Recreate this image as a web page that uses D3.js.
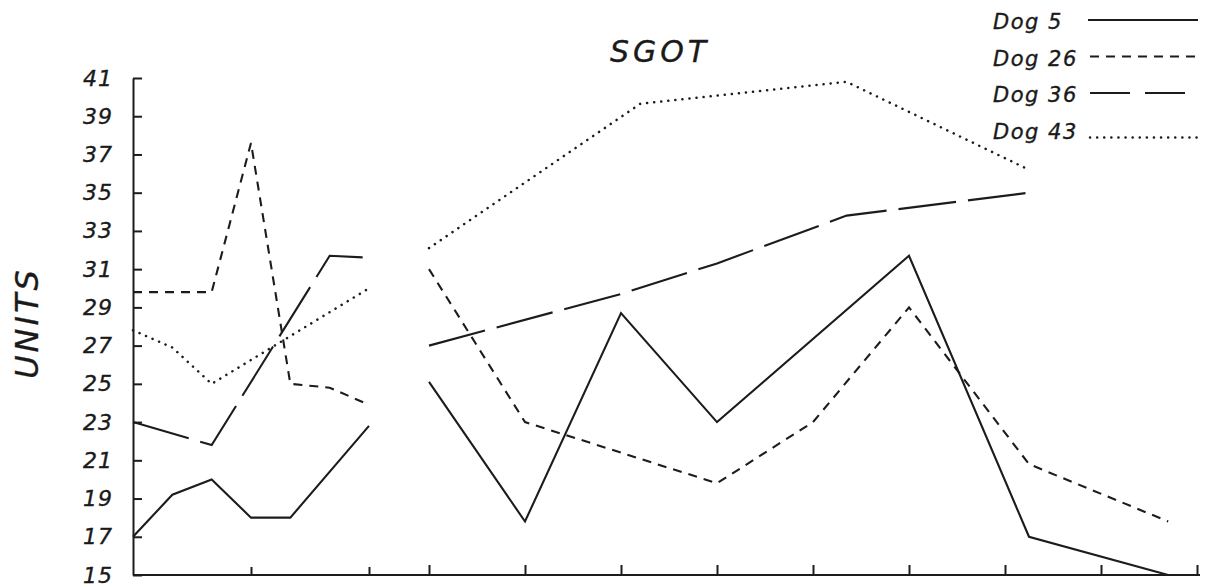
<!DOCTYPE html>
<html>
<head>
<meta charset="utf-8">
<script src="https://cdn.jsdelivr.net/npm/d3@7"></script>
<style>
  html, body { margin: 0; padding: 0; background: #fff; }
  svg { display: block; }
  text { font-family: "DejaVu Sans", sans-serif; font-style: italic; fill: #1a1a1a; stroke: #1a1a1a; stroke-width: 0.35; }
</style>
</head>
<body>
<script>
// ---- data -------------------------------------------------------------
const seriesNames = ["Dog 5", "Dog 26", "Dog 36", "Dog 43"];

// early period (left panel), time index 0..6
const dog5EarlyT  = [0, 1, 2, 3, 4, 6];
const dog5EarlyV  = [17, 19.2, 20, 18, 18, 22.8];
const dog26EarlyT = [0, 2, 3, 4, 5, 6];
const dog26EarlyV = [29.8, 29.8, 37.6, 25, 24.8, 23.9];
const dog36EarlyT = [0, 2, 5, 6];
const dog36EarlyV = [23, 21.8, 31.7, 31.6];
const dog43EarlyT = [0, 1, 2, 6];
const dog43EarlyV = [27.8, 26.9, 25, 30];

// later period (right panel), time index 0..8
const dog5LateT  = [0, 1, 2, 3, 5, 6.25, 7.7];
const dog5LateV  = [25.1, 17.8, 28.7, 23, 31.7, 17, 15];
const dog26LateT = [0, 1, 3, 4, 5, 6.25, 7.7];
const dog26LateV = [31, 23, 19.8, 23, 29, 20.8, 17.8];
const dog36LateT = [0, 2, 3, 4.35, 6.25];
const dog36LateV = [27, 29.7, 31.3, 33.8, 35];
const dog43LateT = [0, 2.2, 4.35, 6.25];
const dog43LateV = [32.1, 39.65, 40.8, 36.2];

const yTickValues = [15, 17, 19, 21, 23, 25, 27, 29, 31, 33, 35, 37, 39, 41];
const earlyTicks = [3, 6];
const lateTicks = [0, 1, 2, 3, 4, 5, 6, 7, 8];

// ---- layout & scales --------------------------------------------------
const W = 1215, H = 587;
const svg = d3.select("body").append("svg").attr("width", W).attr("height", H);

const y = d3.scaleLinear().domain([15, 41]).range([575, 78]);
const xEarly = d3.scaleLinear().domain([0, 6]).range([133, 369]);
const xLate = d3.scaleLinear().domain([0, 8]).range([429, 1197]);

const ink = "#1c1c1c";

// line styles per dog
const styles = {
  "Dog 5":  { dash: null,       width: 2.1, cap: "butt",  legendDash: null },
  "Dog 26": { dash: "9,7",      width: 2.1, cap: "butt",  legendDash: "9,7" },
  "Dog 36": { dash: "58,12",    width: 2.1, cap: "butt",  legendDash: "40,15" },
  "Dog 43": { dash: "0.1,7",    width: 2.5, cap: "round", legendDash: "0.1,7" }
};

const zip = (ts, vs) => ts.map((t, i) => ({ t, v: vs[i] }));
const segments = [
  { name: "Dog 5",  x: xEarly, pts: zip(dog5EarlyT, dog5EarlyV) },
  { name: "Dog 26", x: xEarly, pts: zip(dog26EarlyT, dog26EarlyV) },
  { name: "Dog 36", x: xEarly, pts: zip(dog36EarlyT, dog36EarlyV) },
  { name: "Dog 43", x: xEarly, pts: zip(dog43EarlyT, dog43EarlyV) },
  { name: "Dog 5",  x: xLate,  pts: zip(dog5LateT, dog5LateV) },
  { name: "Dog 26", x: xLate,  pts: zip(dog26LateT, dog26LateV) },
  { name: "Dog 36", x: xLate,  pts: zip(dog36LateT, dog36LateV) },
  { name: "Dog 43", x: xLate,  pts: zip(dog43LateT, dog43LateV) }
];

// ---- axes -------------------------------------------------------------
const yAxis = d3.axisLeft(y)
  .tickValues(yTickValues)
  .tickSize(-9)
  .tickSizeOuter(0)
  .tickPadding(20)
  .tickFormat(d3.format("d"));

const gy = svg.append("g").attr("transform", `translate(${xEarly(0)},0)`).call(yAxis);
gy.select(".domain").attr("stroke", ink).attr("stroke-width", 2);
gy.selectAll(".tick line").attr("stroke", ink).attr("stroke-width", 2);
gy.selectAll(".tick text")
  .attr("font-size", 22)
  .attr("letter-spacing", 1)
  .attr("fill", ink)
  .style("font-family", "DejaVu Sans, sans-serif")
  .style("font-style", "italic");

// baseline across both panels
svg.append("line")
  .attr("x1", xEarly(0)).attr("x2", xLate(8) + 3)
  .attr("y1", y(15)).attr("y2", y(15))
  .attr("stroke", ink).attr("stroke-width", 2);

const gxE = svg.append("g").attr("transform", `translate(0,${y(15)})`)
  .call(d3.axisBottom(xEarly).tickValues(earlyTicks).tickSize(-8).tickFormat(""));
const gxL = svg.append("g").attr("transform", `translate(0,${y(15)})`)
  .call(d3.axisBottom(xLate).tickValues(lateTicks).tickSize(-10).tickFormat(""));
[gxE, gxL].forEach(g => {
  g.select(".domain").remove();
  g.selectAll(".tick line").attr("stroke", ink).attr("stroke-width", 2);
});

// ---- series lines -----------------------------------------------------
segments.forEach(s => {
  const st = styles[s.name];
  const line = d3.line().x(d => s.x(d.t)).y(d => y(d.v));
  svg.append("path")
    .datum(s.pts)
    .attr("d", line)
    .attr("fill", "none")
    .attr("stroke", ink)
    .attr("stroke-width", st.width)
    .attr("stroke-linecap", st.cap)
    .attr("stroke-linejoin", "miter")
    .attr("stroke-dasharray", st.dash);
});

// ---- titles -----------------------------------------------------------
svg.append("text")
  .attr("x", 660).attr("y", 62)
  .attr("text-anchor", "middle")
  .attr("font-size", 30)
  .attr("letter-spacing", 4)
  .text("SGOT");

svg.append("text")
  .attr("transform", "translate(38,323) rotate(-90)")
  .attr("text-anchor", "middle")
  .attr("font-size", 32)
  .attr("letter-spacing", 3)
  .text("UNITS");

// ---- legend -----------------------------------------------------------
const legend = svg.append("g");
seriesNames.forEach((name, i) => {
  const st = styles[name];
  const base = 29 + i * 36.5;
  legend.append("text")
    .attr("x", 993).attr("y", base)
    .attr("font-size", 21)
    .attr("letter-spacing", 1.5)
    .text(name);
  const ly = name === "Dog 43" ? base - 1 : base - 9;
  legend.append("line")
    .attr("x1", name === "Dog 5" ? 1088 : 1090).attr("x2", 1198)
    .attr("y1", ly).attr("y2", ly)
    .attr("stroke", ink)
    .attr("stroke-width", st.width)
    .attr("stroke-linecap", st.cap)
    .attr("stroke-dasharray", st.legendDash);
});
</script>
</body>
</html>
